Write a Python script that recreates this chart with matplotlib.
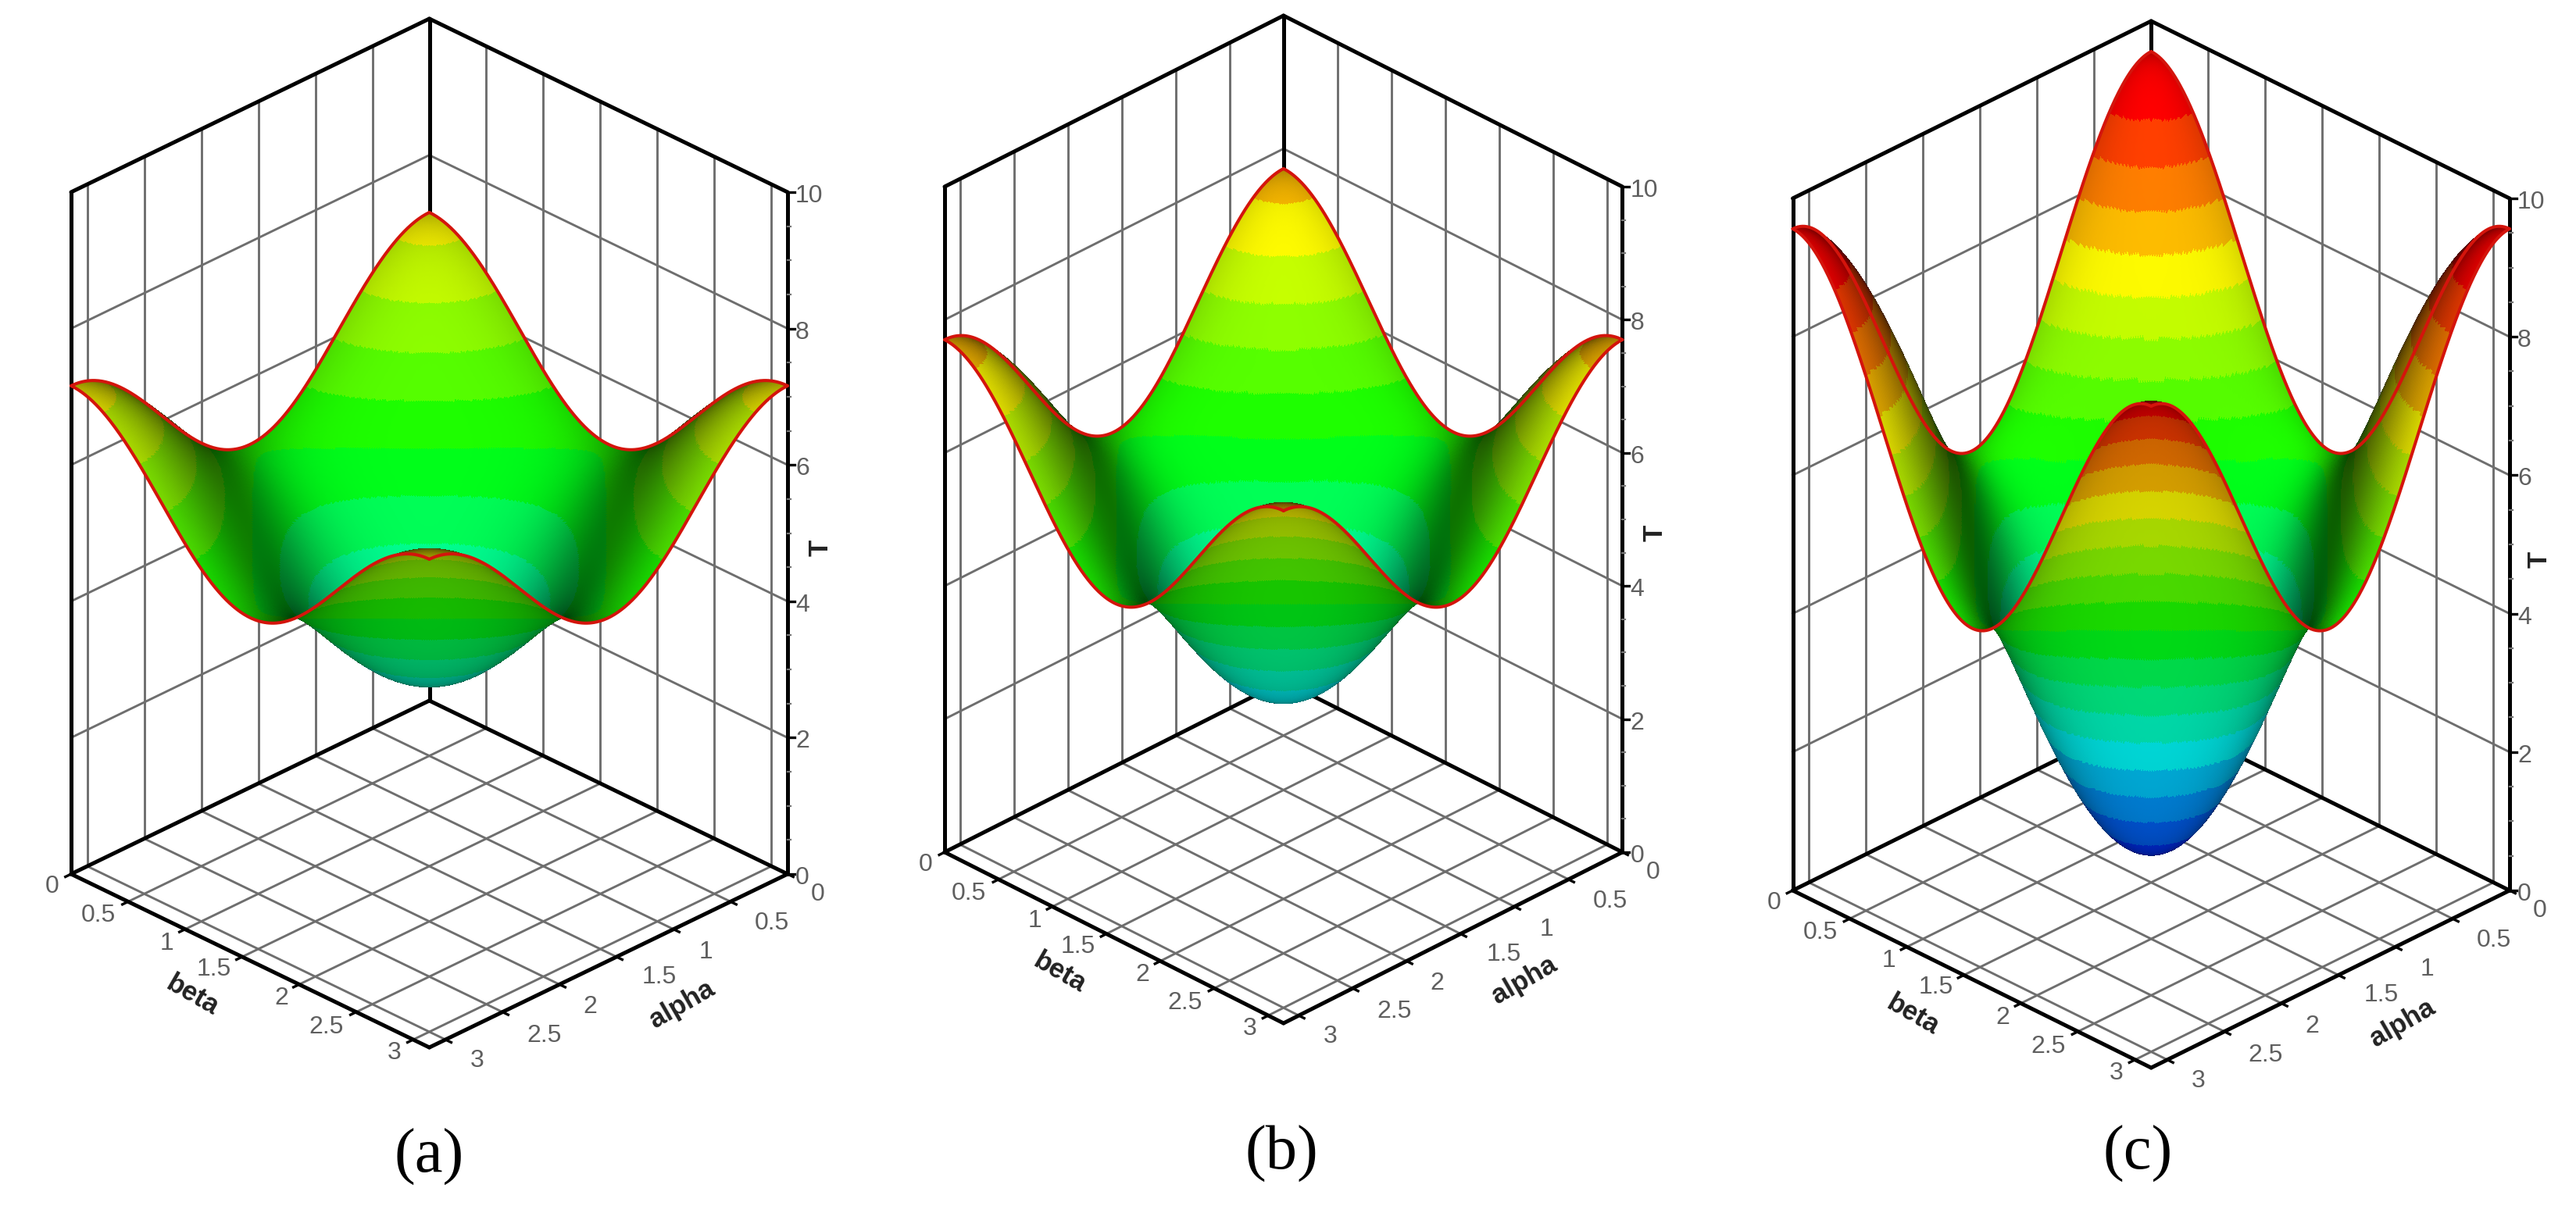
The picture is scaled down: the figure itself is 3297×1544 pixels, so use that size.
import numpy as np
import matplotlib
matplotlib.use("Agg")
import matplotlib.pyplot as plt
from matplotlib.colors import LinearSegmentedColormap
from mpl_toolkits.mplot3d import proj3d

W, H = 3298, 1544
plt.rcParams['font.family'] = ['Liberation Sans', 'DejaVu Sans']

# T read at alpha, beta = 0, pi/8, pi/4, 3pi/8, pi/2 (the surface repeats by mirror to pi)
T_a = [[7.16, 6.85, 6.10, 5.34, 5.03],
       [6.85, 6.54, 5.78, 5.03, 4.72],
       [6.10, 5.78, 5.03, 4.28, 3.97],
       [5.34, 5.03, 4.28, 3.52, 3.21],
       [5.03, 4.72, 3.97, 3.21, 2.90]]
T_b = [[7.70, 7.31, 6.37, 5.42, 5.03],
       [7.31, 6.92, 5.97, 5.03, 4.64],
       [6.37, 5.97, 5.03, 4.09, 3.70],
       [5.42, 5.03, 4.09, 3.14, 2.75],
       [5.03, 4.64, 3.70, 2.75, 2.36]]
T_c = [[9.56, 8.90, 7.32, 5.73, 5.07],
       [8.90, 8.24, 6.66, 5.07, 4.41],
       [7.32, 6.66, 5.07, 3.48, 2.83],
       [5.73, 5.07, 3.48, 1.90, 1.24],
       [5.07, 4.41, 2.83, 1.24, 0.58]]

plane_ticks = [0, 0.5, 1, 1.5, 2, 2.5, 3]
plane_labels = ['0', '0.5', '1', '1.5', '2', '2.5', '3']
z_ticks = [0, 2, 4, 6, 8, 10]
z_minor = [0.5, 1, 1.5, 2.5, 3, 3.5, 4.5, 5, 5.5, 6.5, 7, 7.5, 8.5, 9, 9.5]
panel_names = ['(a)', '(b)', '(c)']

# pixel frame of each panel: left x, centre x, right x, side-floor y, front-floor y, side-top y
frames = [(91, 548, 1008, 1119, 1341, 246),
          (1209, 1641.5, 2076.5, 1091, 1310, 239),
          (2294.5, 2752, 3212, 1140, 1367, 254)]
name_pos = [((549, 1481), (246, 1275), (873, 1286), (1050, 701)),
            ((1640, 1477), (1356, 1246), (1951, 1255), (2118, 682)),
            ((2736, 1477), (2448, 1300), (3075, 1310), (3250, 716))]

band_stops = [(0.25, (0, 0, 1)), (2.75, (0, 1, 1)), (5.0, (0, 1, 0)),
              (7.25, (1, 1, 0)), (9.25, (1, 0, 0))]
cmap = LinearSegmentedColormap.from_list(
    'r', [((t - 0.25) / 9.0, c) for t, c in band_stops])

PI = np.pi
GRID = '#6e6e6e'
TICK = '#5f5f5f'
RED = '#d4140c'


def smooth(table, n=301):
    nodes = np.linspace(0, PI / 2, 5)
    k = np.arange(5)
    C = np.cos(2 * np.outer(nodes, k))
    coef = np.linalg.solve(C, np.linalg.solve(C, np.array(table)).T)
    fine = np.linspace(0, PI, n)
    E = np.cos(2 * np.outer(fine, k))
    return fine, E @ coef @ E.T


fig = plt.figure(figsize=(W / 100, H / 100), dpi=100)


def panel(table, frame, names, label):
    xl, xc, xr, yf, yfront, ytop = frame
    half = (xr - xl) / 2
    depth = yfront - yf
    elev = np.degrees(np.arcsin(depth / half))
    unit = 2 * half / np.sqrt(2)
    bz = (yf - ytop) / (np.cos(np.radians(elev)) * unit)

    S = 1400
    ax = fig.add_axes([(xc - S / 2) / W, 1 - (yf + S / 2) / H, S / W, S / H],
                      projection='3d', proj_type='ortho')
    ax.computed_zorder = False
    ax.set_axis_off()
    ax.patch.set_visible(False)
    ax.set_facecolor('none')
    ax.view_init(elev=elev, azim=45)

    fine, Z = smooth(table)
    A, B = np.meshgrid(fine, fine, indexing='ij')
    dTa = np.gradient(Z, fine, axis=0) * PI * bz / 10
    dTb = np.gradient(Z, fine, axis=1) * PI * bz / 10
    norm = np.sqrt(dTa ** 2 + dTb ** 2 + 1)
    e = np.radians(elev)
    v = np.array([np.cos(e) / np.sqrt(2), np.cos(e) / np.sqrt(2), np.sin(e)])
    ndv = (-dTa * v[0] - dTb * v[1] + v[2]) / norm
    shade = 0.20 + 0.80 * np.abs(ndv) ** 0.8
    under = np.clip(-ndv, 0, 1)
    shade = np.where(ndv < 0, np.clip(shade + 0.20 * (1 - under), 0, 1), shade)
    band = (np.floor(Z / 0.5) + 0.5) * 0.5
    rgba = cmap((band - 0.25) / 9.0)
    rgba[..., :3] *= shade[..., None]

    lw_grid = 2.1
    lw_box = 3.6
    top = PI
    for t in plane_ticks[1:]:
        ax.plot([t, t], [0, 0], [0, 10], color=GRID, lw=lw_grid, zorder=1)
        ax.plot([0, 0], [t, t], [0, 10], color=GRID, lw=lw_grid, zorder=1)
        ax.plot([t, t], [0, top], [0, 0], color=GRID, lw=lw_grid, zorder=1)
        ax.plot([0, top], [t, t], [0, 0], color=GRID, lw=lw_grid, zorder=1)
    for z in z_ticks[1:-1]:
        ax.plot([0, top], [0, 0], [z, z], color=GRID, lw=lw_grid, zorder=1)
        ax.plot([0, 0], [0, top], [z, z], color=GRID, lw=lw_grid, zorder=1)
    # box outline
    k = dict(color='black', lw=lw_box, zorder=1.5, solid_capstyle='round')
    ax.plot([0, 0], [0, 0], [0, 10], **k)
    ax.plot([top, top], [0, 0], [0, 10], **k)
    ax.plot([0, 0], [top, top], [0, 10], **k)
    ax.plot([0, top], [0, 0], [10, 10], **k)
    ax.plot([0, 0], [0, top], [10, 10], **k)
    ax.plot([0, top], [0, 0], [0, 0], **k)
    ax.plot([0, 0], [0, top], [0, 0], **k)
    ax.plot([top, top], [0, top], [0, 0], **k)
    ax.plot([0, top], [top, top], [0, 0], **k)
    # ticks
    for t in plane_ticks:
        ax.plot([top, top + 0.05], [t, t], [0, 0], color='black', lw=2.4, zorder=1.5)
        ax.plot([t, t], [top, top + 0.05], [0, 0], color='black', lw=2.4, zorder=1.5)
    for z in z_ticks:
        ax.plot([0, -0.03], [top, top + 0.03], [z, z], color='black', lw=2.4, zorder=1.5)
    for z in z_minor:
        ax.plot([0, -0.012], [top, top + 0.012], [z, z], color='#777777', lw=1.6, zorder=1.5)

    ax.plot_surface(A, B, Z, facecolors=rgba, rstride=1, cstride=1, shade=False,
                    linewidth=0, antialiased=False, zorder=2)
    rk = dict(color=RED, lw=2.9, zorder=3, solid_capstyle='round')
    ax.plot(fine, 0 * fine, Z[:, 0], **rk)
    ax.plot(fine, 0 * fine + PI, Z[:, -1], **rk)
    ax.plot(0 * fine, fine, Z[0, :], **rk)
    ax.plot(0 * fine + PI, fine, Z[-1, :], **rk)

    ax.set_xlim(0, PI, view_margin=0)
    ax.set_ylim(0, PI, view_margin=0)
    ax.set_zlim(0, 10, view_margin=0)

    def to_px(x, y, z):
        a, b, _ = proj3d.proj_transform(x, y, z, ax.get_proj())
        return ax.transData.transform((a, b))

    # fit the projected box to the frame in the picture
    ax.set_box_aspect((1, 1, bz), zoom=1)
    ax.apply_aspect()
    wid = to_px(0, PI, 0)[0] - to_px(PI, 0, 0)[0]
    ax.set_box_aspect((1, 1, bz), zoom=(xr - xl) / wid)
    ax.apply_aspect()
    px = to_px(0, PI, 0)
    dx, dy = xr - px[0], (H - yf) - px[1]
    pos = ax.get_position()
    ax.set_position([pos.x0 + dx / W, pos.y0 + dy / H, pos.width, pos.height])
    ax.apply_aspect()

    def lab(x, y, z, s, ox, oy, ha='center'):
        a, b, _ = proj3d.proj_transform(x, y, z, ax.get_proj())
        ax.annotate(s, xy=(a, b), xytext=(ox, -oy), textcoords='offset pixels',
                    ha=ha, va='center', fontsize=23, color=TICK, zorder=5)

    beta_off = [(-24, 16), (-38, 18), (-23, 18), (-36, 16), (-23, 18), (-38, 19), (-24, 17)]
    alpha_off = [(39, 26), (53, 28), (41, 29), (55, 26), (39, 29), (53, 30), (40, 27)]
    for t, s, o1, o2 in zip(plane_ticks, plane_labels, beta_off, alpha_off):
        lab(PI, t, 0, s, o1[0], o1[1])
        lab(t, PI, 0, s, o2[0], o2[1])
    for z in z_ticks:
        lab(0, PI, z, str(z), 10, 5, ha='left')

    (lx, ly), (bx, by), (ax_x, ax_y), (tx, ty) = names
    fig.text(lx / W, 1 - ly / H, label, family=['Liberation Serif'], fontsize=58,
             ha='center', va='center', color='black')
    fig.text(bx / W, 1 - by / H, 'beta', fontsize=25, fontweight='bold', rotation=-30,
             ha='center', va='center', color='#222222', rotation_mode='anchor')
    fig.text(ax_x / W, 1 - ax_y / H, 'alpha', fontsize=25, fontweight='bold', rotation=30,
             ha='center', va='center', color='#222222', rotation_mode='anchor')
    fig.text(tx / W, 1 - ty / H, 'T', fontsize=25, fontweight='bold', rotation=90,
             ha='center', va='center', color='#222222')


for table, frame, names, label in zip([T_a, T_b, T_c], frames, name_pos, panel_names):
    panel(table, frame, names, label)

fig.savefig('out.png', dpi=100, facecolor='white')
